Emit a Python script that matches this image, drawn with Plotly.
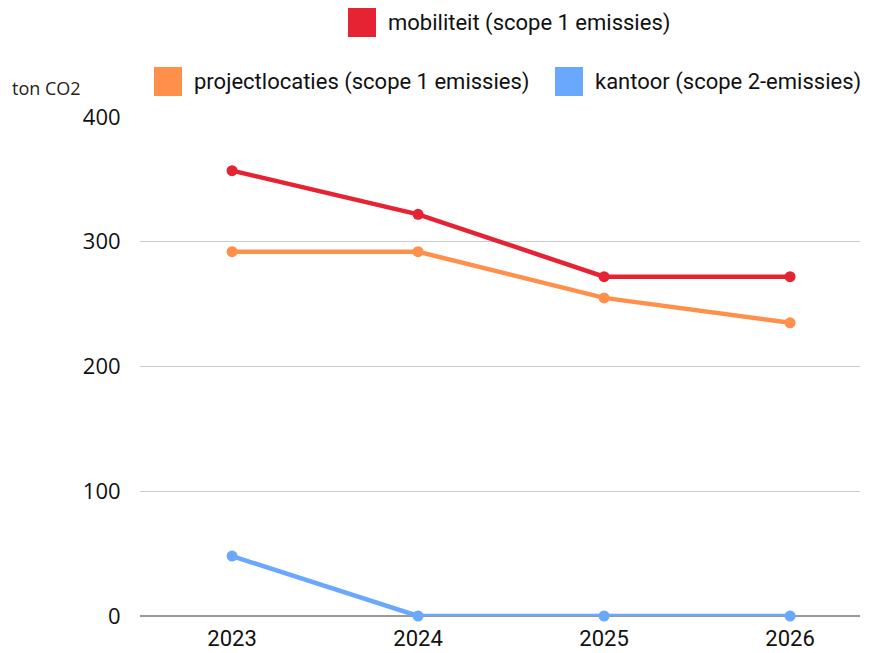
import plotly.graph_objects as go

years = ["2023", "2024", "2025", "2026"]
mobiliteit = [357, 322, 272, 272]
projectlocaties = [292, 292, 255, 235]
kantoor = [48, 0, 0, 0]

series = [
    ("mobiliteit (scope 1 emissies)", mobiliteit, "#e62333"),
    ("projectlocaties (scope 1 emissies)", projectlocaties, "#ff8f4a"),
    ("kantoor (scope 2-emissies)", kantoor, "#69a8fc"),
]

# the page body adds an 8px offset, so the figure is made that much smaller
OFF = 8
W, H = 874 - OFF, 653 - OFF
L, R, T, B = 140 - OFF, 14, 117 - OFF, 37
PW, PH = 720, 499
COND = "Roboto, Open Sans, sans-serif"


def px(x):
    return (x - 140) / PW


def py(y):
    return (616 - y) / PH


fig = go.Figure()
for name, vals, color in series[::-1]:
    fig.add_trace(
        go.Scatter(
            x=years,
            y=vals,
            mode="lines+markers",
            name=name,
            line={"color": color, "width": 4.5},
            marker={"color": color, "size": 11},
            cliponaxis=False,
            showlegend=False,
        )
    )

# custom legend: big squares + labels
legend_items = [
    (series[0], 348, 8),
    (series[1], 154, 67),
    (series[2], 555, 67),
]
shapes = []
annotations = []
for (name, _, color), x0, y0 in legend_items:
    shapes.append(
        dict(type="rect", xref="paper", yref="paper",
             x0=px(x0), x1=px(x0 + 28), y0=py(y0 + 29), y1=py(y0),
             fillcolor=color, line={"width": 0})
    )
    annotations.append(
        dict(text=name, xref="paper", yref="paper", x=px(x0 + 38), y=py(y0 + 15),
             xanchor="left", yanchor="middle", showarrow=False,
             font={"family": COND, "size": 22, "color": "#111111"})
    )
annotations.append(
    dict(text="ton CO2", xref="paper", yref="paper", x=px(10), y=py(88),
         xanchor="left", yanchor="middle", showarrow=False,
         font={"family": "Open Sans", "size": 18, "color": "#222222"})
)

fig.update_layout(
    width=W,
    height=H,
    margin={"l": L, "r": R, "t": T, "b": B},
    paper_bgcolor="white",
    plot_bgcolor="white",
    showlegend=False,
    shapes=shapes,
    annotations=annotations,
    xaxis={
        "type": "category",
        "automargin": False,
        "range": [-0.495, 3.376],
        "showgrid": False,
        "showline": False,
        "zeroline": False,
        "ticks": "outside",
        "ticklen": 3,
        "tickcolor": "rgba(0,0,0,0)",
        "tickfont": {"family": COND, "size": 22, "color": "#111111"},
    },
    yaxis={
        "automargin": False,
        "range": [0, 400],
        "tickvals": [0, 100, 200, 300, 400],
        "showgrid": True,
        "gridcolor": "#cccccc",
        "gridwidth": 1,
        "zeroline": True,
        "zerolinecolor": "#999999",
        "zerolinewidth": 1.5,
        "ticks": "outside",
        "ticklen": 14,
        "tickcolor": "rgba(0,0,0,0)",
        "tickfont": {"family": "Open Sans", "size": 22, "color": "#111111"},
    },
)

fig.write_html("out.html")
